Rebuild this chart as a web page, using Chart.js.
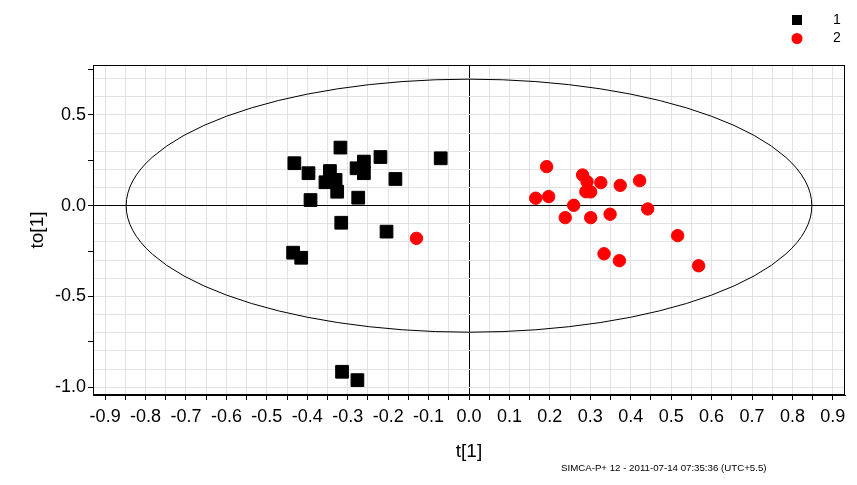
<!DOCTYPE html>
<html>
<head>
<meta charset="utf-8">
<script src="https://cdn.jsdelivr.net/npm/chart.js@4/dist/chart.umd.min.js"></script>
<style>
  html, body { margin: 0; padding: 0; background: #fff; }
  #wrap { width: 857px; height: 485px; position: relative; }
</style>
</head>
<body>
<div id="wrap"><canvas id="scoreChart"></canvas></div>
<script>
// class 1 (black squares) - t[1] / to[1]
const class1T = [-0.318, -0.432, -0.397, -0.344, -0.355, -0.330, -0.326, -0.392, -0.274, -0.260,
  -0.278, -0.260, -0.219, -0.182, -0.070, -0.316, -0.204, -0.435, -0.415, -0.314, -0.276];
const class1To = [0.320, 0.234, 0.179, 0.191, 0.129, 0.142, 0.077, 0.031, 0.044, 0.243,
  0.206, 0.179, 0.268, 0.147, 0.261, -0.094, -0.143, -0.259, -0.287, -0.915, -0.961];

// class 2 (red circles)
const class2T = [-0.130, 0.192, 0.165, 0.197, 0.281, 0.292, 0.289, 0.301, 0.326, 0.374,
  0.422, 0.259, 0.238, 0.301, 0.349, 0.442, 0.516, 0.334, 0.372, 0.568];
const class2To = [-0.180, 0.215, 0.041, 0.050, 0.169, 0.132, 0.077, 0.076, 0.127, 0.112,
  0.138, 0.002, -0.066, -0.066, -0.047, -0.018, -0.165, -0.265, -0.303, -0.331];

const classLabels = ["1", "2"];

// Hotelling T2 ellipse radii (t[1], to[1])
const ellipseT = 0.848;
const ellipseTo = 0.697;

const xMin = -0.93, xMax = 0.93;
const yMin = -1.043, yMax = 0.775;

const footerText = "SIMCA-P+ 12 - 2011-07-14 07:35:36 (UTC+5.5)";

function toPoints(xs, ys) {
  return xs.map((x, i) => ({ x: x, y: ys[i] }));
}

const gridColor = (ctx) =>
  ctx.tick && Math.abs(ctx.tick.value) < 1e-9 ? "#000000" : "#e2e2e2";

const extrasPlugin = {
  id: "extras",
  beforeDatasetsDraw(chart) {
    const { ctx, chartArea, scales } = chart;
    const x = scales.x, y = scales.y;
    const cx = x.getPixelForValue(0);
    const cy = y.getPixelForValue(0);
    const rx = x.getPixelForValue(ellipseT) - cx;
    const ry = cy - y.getPixelForValue(ellipseTo);
    ctx.save();
    ctx.strokeStyle = "#000";
    ctx.lineWidth = 1;
    ctx.beginPath();
    ctx.ellipse(cx, cy, rx, ry, 0, 0, Math.PI * 2);
    ctx.stroke();
    // plot frame
    ctx.strokeRect(chartArea.left + 0.5, chartArea.top + 0.5,
      chartArea.right - chartArea.left - 1, chartArea.bottom - chartArea.top - 1);
    ctx.restore();
  },
  afterDraw(chart) {
    const { ctx } = chart;
    ctx.save();
    // legend
    chart.data.datasets.forEach((ds, i) => {
      const ly = 20 + i * 18.5;
      ctx.fillStyle = ds.backgroundColor;
      ctx.beginPath();
      if (ds.pointStyle === "rect") {
        ctx.rect(792, ly - 5, 10, 10);
      } else {
        ctx.arc(797, ly, 5.5, 0, Math.PI * 2);
      }
      ctx.fill();
      ctx.fillStyle = "#000";
      ctx.font = "14px 'Liberation Sans', Arial, sans-serif";
      ctx.textAlign = "center";
      ctx.textBaseline = "middle";
      ctx.fillText(ds.label, 837, ly);
    });
    // footer
    ctx.font = "9.7px 'Liberation Sans', Arial, sans-serif";
    ctx.textAlign = "left";
    ctx.textBaseline = "middle";
    ctx.fillText(footerText, 561, 468);
    ctx.restore();
  },
};

new Chart(document.getElementById("scoreChart"), {
  type: "scatter",
  data: {
    datasets: [
      {
        label: classLabels[0],
        data: toPoints(class1T, class1To),
        pointStyle: "rect",
        pointRadius: 9,
        borderWidth: 1,
        backgroundColor: "#000000",
        borderColor: "#000000",
      },
      {
        label: classLabels[1],
        data: toPoints(class2T, class2To),
        pointStyle: "circle",
        pointRadius: 6.2,
        borderWidth: 1,
        backgroundColor: "#ff0000",
        borderColor: "#ff0000",
      },
    ],
  },
  options: {
    responsive: true,
    maintainAspectRatio: false,
    animation: false,
    layout: { padding: { top: 65, right: 12, left: 0, bottom: 0 } },
    plugins: {
      legend: { display: false },
      tooltip: { enabled: false },
    },
    scales: {
      x: {
        type: "linear",
        position: "bottom",
        min: xMin,
        max: xMax,
        afterFit: (scale) => { scale.height = 90; },
        ticks: {
          stepSize: 0.05,
          includeBounds: false,
          autoSkip: false,
          maxRotation: 0,
          padding: 6,
          color: "#000",
          font: { family: "'Liberation Sans', Arial, sans-serif", size: 18 },
          callback: (v) => (Math.round(Math.abs(v) * 20) % 2 === 0 ? Number(v).toFixed(1) : ""),
        },
        grid: { color: gridColor, tickColor: "#000", tickLength: 5, lineWidth: 1 },
        border: { display: true, color: "#000" },
        title: {
          display: true,
          text: "t[1]",
          color: "#000",
          font: { family: "'Liberation Sans', Arial, sans-serif", size: 19 },
          padding: { top: 0, bottom: 22 },
        },
      },
      y: {
        type: "linear",
        position: "left",
        min: yMin,
        max: yMax,
        afterFit: (scale) => { scale.width = 93; },
        ticks: {
          stepSize: 0.25,
          includeBounds: false,
          autoSkip: false,
          padding: 2,
          color: "#000",
          font: { family: "'Liberation Sans', Arial, sans-serif", size: 18 },
          callback: (v) => (Math.round(Math.abs(v) * 4) % 2 === 0 ? Number(v).toFixed(1) : ""),
        },
        grid: { drawOnChartArea: false, tickColor: "#000", tickLength: 5 },
        border: { display: true, color: "#000" },
        title: {
          display: true,
          text: "to[1]",
          color: "#000",
          font: { family: "'Liberation Sans', Arial, sans-serif", size: 19 },
          padding: { top: 26, bottom: 0 },
        },
      },
      yGrid: {
        type: "linear",
        position: "left",
        min: yMin,
        max: yMax,
        afterFit: (scale) => { scale.width = 0; },
        ticks: { display: false, stepSize: 0.1, includeBounds: false },
        grid: { color: gridColor, drawTicks: false },
        border: { display: false },
      },
    },
  },
  plugins: [extrasPlugin],
});
</script>
</body>
</html>
